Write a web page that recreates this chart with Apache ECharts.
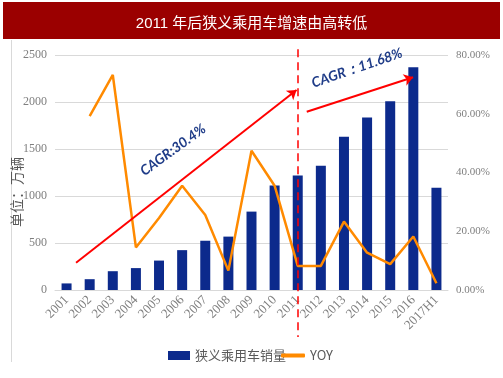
<!DOCTYPE html>
<html>
<head>
<meta charset="utf-8">
<style>
  html, body { margin: 0; padding: 0; background: #fff; }
  #chart { width: 503px; height: 378px; }
</style>
<script src="https://cdn.jsdelivr.net/npm/echarts@6/dist/echarts.min.js"></script>
</head>
<body>
<div id="chart"></div>
<script>
// 年份
const years = ['2001', '2002', '2003', '2004', '2005', '2006', '2007', '2008', '2009',
  '2010', '2011', '2012', '2013', '2014', '2015', '2016', '2017H1']
// 狭义乘用车销量（万辆）
const sales = [70, 115, 200, 233, 313, 424, 524, 568, 834, 1113, 1217, 1322, 1630, 1835, 2008, 2370, 1089]
// 同比增速 %
const yoy = [null, 59.2, 73.2, 14.5, 24.5, 35.5, 25.5, 6.6, 47.4, 35.5, 8.2, 8.2, 23.3, 12.7, 8.8, 18.2, 2.3]

const leftAxis = { min: 0, max: 2500, interval: 500 }
const rightAxis = { min: 0, max: 80, interval: 20 }

// 注释箭头（类目序号, 销量）
const arrow1 = [[0.41, 290], [9.95, 2128]]
const arrow2 = [[10.39, 1897], [14.99, 2263]]
const divider = [[10, 2560], [10, -500]]

const serif = '"Liberation Serif", "DejaVu Serif", serif'
const gray = '#7f7f7f'
const legendText = {
  color: '#595959',
  fontSize: 13,
  fontFamily: '"Noto Sans CJK SC", serif'
}

const chart = echarts.init(document.getElementById('chart'))
chart.setOption({
  animation: false,
  title: {
    text: '2011 年后狭义乘用车增速由高转低',
    left: 'center',
    top: 11,
    textStyle: {
      color: '#fff',
      fontSize: 15,
      fontWeight: 'normal',
      fontFamily: '"Liberation Sans", "Noto Sans CJK SC", sans-serif'
    }
  },
  grid: {
    left: 55,
    right: 55,
    top: 55,
    bottom: 88
  },
  legend: [
    {
      left: 163,
      top: 344,
      itemWidth: 22,
      itemHeight: 9,
      data: [{ name: '狭义乘用车销量', icon: 'rect' }],
      textStyle: legendText
    },
    {
      left: 276,
      top: 344,
      itemWidth: 24,
      itemHeight: 4,
      data: [{ name: 'YOY', icon: 'roundRect' }],
      itemStyle: { color: '#ff8a00' },
      textStyle: legendText
    }
  ],
  xAxis: [
    {
      type: 'category',
      data: years,
      axisTick: { show: false },
      axisLine: { lineStyle: { color: '#d9d9d9', width: 1 } },
      axisLabel: {
        rotate: 45,
        interval: 0,
        margin: 8,
        color: gray,
        fontSize: 13,
        fontFamily: serif
      }
    },
    {
      type: 'value',
      min: -0.5,
      max: 16.5,
      show: false
    }
  ],
  yAxis: [
    {
      type: 'value',
      min: leftAxis.min,
      max: leftAxis.max,
      interval: leftAxis.interval,
      axisLine: { show: false },
      axisTick: { show: false },
      splitLine: { lineStyle: { color: '#d9d9d9', width: 1 } },
      axisLabel: {
        color: gray,
        fontSize: 12,
        fontFamily: serif,
        margin: 8,
        formatter: v => String(v)
      }
    },
    {
      type: 'value',
      min: rightAxis.min,
      max: rightAxis.max,
      interval: rightAxis.interval,
      axisLine: { show: false },
      axisTick: { show: false },
      splitLine: { show: false },
      axisLabel: {
        color: gray,
        fontSize: 11,
        fontFamily: serif,
        margin: 8,
        formatter: v => v.toFixed(2) + '%'
      }
    }
  ],
  series: [
    {
      name: '狭义乘用车销量',
      type: 'bar',
      data: sales,
      barWidth: 10,
      itemStyle: { color: '#0c2a8c' }
    },
    {
      name: 'YOY',
      type: 'line',
      yAxisIndex: 1,
      data: yoy,
      symbol: 'none',
      lineStyle: { color: '#ff8a00', width: 2.5 },
      itemStyle: { color: '#ff8a00' },
      z: 3
    },
    {
      type: 'lines',
      coordinateSystem: 'cartesian2d',
      xAxisIndex: 1,
      yAxisIndex: 0,
      symbol: ['none', 'arrow'],
      symbolSize: 9,
      clip: false,
      lineStyle: { color: '#ff0000', width: 2, opacity: 1 },
      data: [{ coords: arrow1 }, { coords: arrow2 }],
      z: 4
    },
    {
      type: 'lines',
      coordinateSystem: 'cartesian2d',
      xAxisIndex: 1,
      yAxisIndex: 0,
      symbol: 'none',
      clip: false,
      lineStyle: { color: '#ff0000', width: 1.5, type: [8, 5], opacity: 1 },
      data: [{ coords: divider }],
      z: 4
    }
  ],
  graphic: [
    {
      type: 'rect',
      z: -1,
      shape: { x: 3, y: 2, width: 497, height: 37 },
      style: { fill: '#9b0000' }
    },
    {
      type: 'line',
      shape: { x1: 11.5, y1: 40, x2: 11.5, y2: 362 },
      style: { stroke: '#d9d9d9', lineWidth: 1 }
    },
    {
      type: 'text',
      x: 17,
      y: 192,
      rotation: Math.PI / 2,
      style: {
        text: '单位：万辆',
        fill: '#595959',
        font: '14px "Noto Sans CJK SC", serif',
        align: 'center',
        verticalAlign: 'middle'
      }
    },
    {
      type: 'text',
      x: 173,
      y: 150,
      rotation: 36 * Math.PI / 180,
      z: 10,
      style: {
        text: 'CAGR:30.4%',
        fill: '#1f3c88',
        font: 'italic bold 14px Lato, "Open Sans", sans-serif',
        align: 'center',
        verticalAlign: 'middle'
      }
    },
    {
      type: 'text',
      x: 357,
      y: 68,
      rotation: 19 * Math.PI / 180,
      z: 10,
      style: {
        text: 'CAGR：11.68%',
        fill: '#1f3c88',
        font: 'italic bold 14px Lato, "Open Sans", sans-serif',
        align: 'center',
        verticalAlign: 'middle'
      }
    }
  ]
})
</script>
</body>
</html>
